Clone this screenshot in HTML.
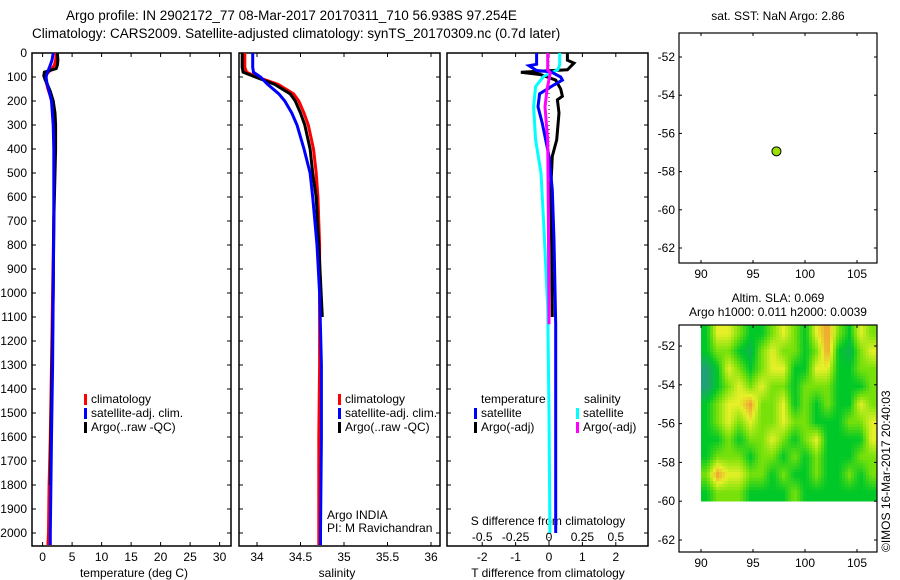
<!DOCTYPE html>
<html><head><meta charset="utf-8"><style>
body{margin:0;background:#fff;}
svg{display:block;font-family:"Liberation Sans",sans-serif;}
</style></head><body>
<svg id="c" width="900" height="580" xmlns="http://www.w3.org/2000/svg"></svg>
<script>
// ---- data ----
const tDepth=[0,30,50,70,90,100,120,150,200,300,400,500,700,1000,1300,1600,1800,2000,2050];
const tClim=[2.3,2.2,2.0,1.4,0.6,0.5,0.6,0.9,1.6,2.0,2.0,2.0,1.9,1.7,1.5,1.3,1.1,1.0,0.9];
const tSat=[1.8,1.6,1.3,1.0,0.7,0.6,0.7,1.0,1.5,1.8,1.9,1.9,1.9,1.8,1.7,1.5,1.4,1.3,1.3];
const aDepth=[0,30,50,65,80,95,110,130,160,200,250,300,400,500,700,1000,1300,1600,1800];
const tArgo=[2.5,2.6,2.5,2.3,0.3,0.2,0.4,0.8,1.3,1.8,2.1,2.2,2.2,2.1,1.9,1.8,1.6,1.4,1.3];
const sDepth=[0,60,80,100,130,170,200,250,300,400,500,600,800,1000,1300,1600,2000,2050];
const sClim=[33.86,33.86,33.88,34.0,34.24,34.42,34.48,34.54,34.59,34.65,34.68,34.70,34.72,34.72,34.72,34.71,34.71,34.71];
const sSat=[33.95,33.95,33.96,34.04,34.12,34.25,34.32,34.40,34.46,34.54,34.61,34.64,34.69,34.72,34.74,34.74,34.73,34.73];
const sArgoDepth=[0,60,80,100,130,170,200,250,300,400,500,600,800,1100];
const sArgo=[33.83,33.83,33.84,33.98,34.2,34.38,34.44,34.5,34.55,34.61,34.64,34.68,34.71,34.75];
const dDepth=[0,20,47,53,73,78,100,113,133,170,224,293,430,570,780,1130,1500,2000];
const dTsat=[-0.37,-0.37,-0.37,-0.6,-0.37,0.05,0.35,0.4,0.15,-0.28,-0.33,-0.2,0,0.1,0.15,0.2,0.2,0.2];
const dArgoDepth=[0,30,42,70,80,90,113,150,180,195,250,362,430,570,800,1100];
const dTargo=[0.55,0.55,0.75,0.55,-0.84,-0.25,0.2,0.35,0.4,0.25,0.3,0.23,0.1,0.05,0.08,0.1];
const dSDepth=[0,50,70,97,140,224,362,500,710,1060,1500,2000];
const dSsat=[0.08,0.08,0.065,-0.04,-0.1,-0.115,-0.1,-0.06,-0.04,-0.01,0.0,0.007];
const dSargoDepth=[0,70,83,153,224,362,640,1130];
const dSargo=[-0.01,-0.01,0.01,-0.015,-0.03,-0.01,-0.005,0];
const depthTicks=[0,100,200,300,400,500,600,700,800,900,1000,1100,1200,1300,1400,1500,1600,1700,1800,1900,2000];
const tempTicks=[0,5,10,15,20,25,30];
const salTicks=[34,34.5,35,35.5,36];
const dtTicks=[-2,-1,0,1,2];
const dsTicks=[-0.5,-0.25,0,0.25,0.5];
const argoLon=[97.254], argoLat=[-56.938];
const lonTicks=[90,95,100,105];
const latTicks=[-52,-54,-56,-58,-60,-62];
const slaGrid=[
[0,2,2,1,0,0,1,2,1,0,2,3,1,0,2,1],
[0,1,1,0,-0.5,1,2,1,1,0,1,3,0,-0.5,1,2],
[-1,0,2,1,0,1,2,2,0,0,2,2,0,0,1,1],
[-1,0,1,2,1,2,1,1,0,1,1,1,0,0,0,1],
[0,1,2,2,3,1,1,2,0,1,0,1,0,0,2,1],
[0,1,2,1,2,1,1,2,1,1,0,0,0,1,1,2],
[0,0,1,0,1,1,2,1,0,1,2,0,0,0,0,2],
[0,1,1,1,0,1,1,0,1,0,1,0,0,0,1,1],
[1,3,2,2,1,1,0,1,0,0,1,0,0,1,0,1],
[0,1,1,1,0,0,0,0,1,0,0,0,0,0,0,0]];

// ---- helpers ----
const S=document.getElementById('c');const NS='http://www.w3.org/2000/svg';
function el(t,a,p){const e=document.createElementNS(NS,t);for(const k in a)e.setAttribute(k,a[k]);(p||S).appendChild(e);return e;}
function txt(x,y,s,opt){const e=el('text',Object.assign({x:x,y:y,'font-size':12,fill:'#000'},opt||{}));e.textContent=s;return e;}
const yD=d=>53+0.24*d;
const xT=v=>42.6+5.9*v;
const xS=v=>257+87*(v-34);
const xDT=v=>549+33.4*v;
const xDS=v=>549+133.6*v;
function line(xs,ds,xf,col,name){const pts=xs.map((v,i)=>xf(v).toFixed(1)+','+yD(ds[i]).toFixed(1)).join(' ');const p=el('polyline',{points:pts,fill:'none',stroke:col,'stroke-width':3});return p;}

txt(66,20,'Argo profile: IN 2902172_77 08-Mar-2017 20170311_710 56.938S 97.254E',{'font-size':13.5});
txt(32,38,'Climatology: CARS2009. Satellite-adjusted climatology: synTS_20170309.nc (0.7d later)',{'font-size':13.5});

const panels=[[32,231,'temperature-panel'],[239,440,'salinity-panel'],[447,648,'difference-panel']];
panels.forEach(([x0,x1,n])=>{
  const r=el('rect',{x:x0,y:53,width:x1-x0,height:493,fill:'none',stroke:'#000','stroke-width':1.5});
  
  depthTicks.forEach(d=>{el('line',{x1:x0,x2:x0+4,y1:yD(d),y2:yD(d),stroke:'#000'});el('line',{x1:x1-4,x2:x1,y1:yD(d),y2:yD(d),stroke:'#000'});});
});
depthTicks.forEach(d=>{txt(27,yD(d)+4,String(d),{'text-anchor':'end'});});
function xticks(ticks,f){ticks.forEach(t=>{const x=f(t);el('line',{x1:x,x2:x,y1:53,y2:57,stroke:'#000'});el('line',{x1:x,x2:x,y1:542,y2:546,stroke:'#000'});const e=txt(x,561,String(t),{'text-anchor':'middle'});});}
xticks(tempTicks,xT);xticks(salTicks,xS);xticks(dtTicks,xDT);
dsTicks.forEach(t=>{const e=txt(xDS(t),541,String(t),{'text-anchor':'middle'});});
txt(134,577,'temperature (deg C)',{'text-anchor':'middle'});
txt(337,577,'salinity',{'text-anchor':'middle'});
txt(548,577,'T difference from climatology',{'text-anchor':'middle'});
txt(548,525,'S difference from climatology',{'text-anchor':'middle'});
el('line',{x1:xDT(0),x2:xDT(0),y1:53,y2:546,stroke:'#000','stroke-dasharray':'1,3'});

line(tClim,tDepth,xT,'#f00','temp-climatology');
line(tArgo,aDepth,xT,'#000','temp-argo');
line(tSat,tDepth,xT,'#00f','temp-satellite');
line(sClim,sDepth,xS,'#f00','sal-climatology');
line(sArgo,sArgoDepth,xS,'#000','sal-argo');
line(sSat,sDepth,xS,'#00f','sal-satellite');
line(dTargo,dArgoDepth,xDT,'#000','tdiff-argo');
line(dSsat,dSDepth,xDS,'#0ff','sdiff-satellite');
line(dTsat,dDepth,xDT,'#00f','tdiff-satellite');
line(dSargo,dSargoDepth,xDS,'#f0f','sdiff-argo');

function leg(x,y,col,s,name){el('rect',{x:x,y:y-9,width:3,height:11,fill:col});txt(x+7,y,s);}
[[84,'temperature'],[338,'salinity']].forEach(([x,n])=>{
  leg(x,403,'#f00','climatology','legend-'+n+'-climatology');
  leg(x,417,'#00f','satellite-adj. clim.','legend-'+n+'-satellite');
  leg(x,431,'#000','Argo(..raw -QC)','legend-'+n+'-argo');
});
txt(481,403,'temperature');
txt(584,403,'salinity');
leg(474,417,'#00f','satellite','legend-tdiff-satellite');
leg(474,431,'#000','Argo(-adj)','legend-tdiff-argo');
leg(576,417,'#0ff','satellite','legend-sdiff-satellite');
leg(576,431,'#f0f','Argo(-adj)','legend-sdiff-argo');
txt(327,519,'Argo INDIA');
txt(327,532,'PI: M Ravichandran');

// ---- maps ----
const xL=v=>701+10.4*(v-90);
function map(top,bot,yf,name){
  const r=el('rect',{x:679,y:top,width:198,height:bot-top,fill:'none',stroke:'#000','stroke-width':1.2});
  
  lonTicks.forEach(t=>{const x=xL(t);el('line',{x1:x,x2:x,y1:top,y2:top+3,stroke:'#000'});el('line',{x1:x,x2:x,y1:bot-3,y2:bot,stroke:'#000'});txt(x,bot+15,String(t),{'text-anchor':'middle'});});
  latTicks.forEach(t=>{const y=yf(t);el('line',{x1:679,x2:682,y1:y,y2:y,stroke:'#000'});el('line',{x1:874,x2:877,y1:y,y2:y,stroke:'#000'});txt(675,y+4,String(t),{'text-anchor':'end'});});
}
const yM1=v=>57+19.1*(-52-v);
const yM2=v=>346+19.4*(-52-v);
txt(778,20,'sat. SST: NaN Argo: 2.86',{'text-anchor':'middle'});
txt(778,302,'Altim. SLA: 0.069',{'text-anchor':'middle'});
txt(778,316,'Argo h1000: 0.011 h2000: 0.0039',{'text-anchor':'middle'});
// heatmap: bilinear interpolation of grid
function col(v){const stops=[[-1,[32,160,120]],[0,[0,200,40]],[1,[120,225,10]],[2,[230,240,40]],[3,[240,160,50]]];for(let i=0;i<stops.length-1;i++){const[a,ca]=stops[i],[b,cb]=stops[i+1];if(v<=b){const t=Math.max(0,(v-a)/(b-a));return 'rgb('+ca.map((c,k)=>Math.round(c+(cb[k]-c)*t)).join(',')+')';}}return 'rgb(240,160,50)';}
const hx0=xL(90), hx1=877, hy0=325, hy1=yM2(-60);
const nR=slaGrid.length, nC=slaGrid[0].length;
const g=el('g',{});
const step=3;
function sample(fr,fc){fr=Math.max(0,Math.min(nR-1,fr));fc=Math.max(0,Math.min(nC-1,fc));const r0=Math.floor(fr),c0=Math.floor(fc),r1=Math.min(nR-1,r0+1),c1=Math.min(nC-1,c0+1);const tr=fr-r0,tc=fc-c0;
 return slaGrid[r0][c0]*(1-tr)*(1-tc)+slaGrid[r0][c1]*(1-tr)*tc+slaGrid[r1][c0]*tr*(1-tc)+slaGrid[r1][c1]*tr*tc;}
for(let y=hy0;y<hy1;y+=step){for(let x=hx0;x<hx1;x+=step){
  const fr=(y+step/2-hy0)/(hy1-hy0)*nR-0.5, fc=(x+step/2-hx0)/(hx1-hx0)*nC-0.5;
  const c=el('rect',{x:x,y:y,width:Math.min(step,hx1-x)+0.3,height:Math.min(step,hy1-y)+0.3,fill:col(sample(fr,fc))},g);
  
  
}}
map(33,263,yM1,'sst-map');
map(325,552,yM2,'sla-map');
argoLon.forEach((lo,i)=>{const c=el('circle',{cx:xL(lo),cy:yM1(argoLat[i]),r:4.5,fill:'#9be000',stroke:'#000','stroke-width':1});});
const cp=txt(0,0,'©IMOS 16-Mar-2017 20:40:03',{transform:'translate(890,552) rotate(-90)','font-size':12});

</script>
</body></html>
